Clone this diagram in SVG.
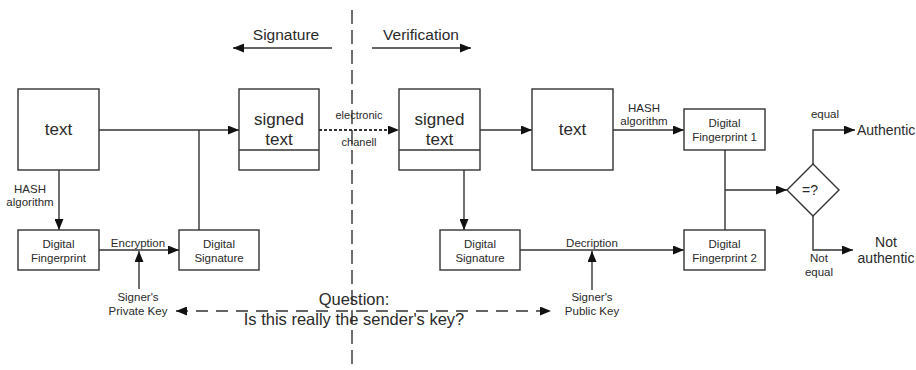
<svg xmlns="http://www.w3.org/2000/svg" width="916" height="370" viewBox="0 0 916 370">
<defs>
<style>
text{font-family:"Liberation Sans",Arial,sans-serif;fill:#2a2a2a;text-anchor:middle}
.box{fill:#fff;stroke:#333;stroke-width:1.4}
.ln{fill:none;stroke:#333;stroke-width:1.4}
.big{font-size:17px}
.sm{font-size:11.5px}
.xs{font-size:11px}
.md{font-size:14px}
.hd{font-size:15.5px}
.q{font-size:16.5px}
</style>
<marker id="ah" markerUnits="userSpaceOnUse" markerWidth="11" markerHeight="9" refX="11" refY="4.5" orient="auto-start-reverse" viewBox="0 0 11 9">
<path d="M0,0 L11,4.5 L0,9 z" fill="#111"/>
</marker>
</defs>
<rect width="916" height="370" fill="#fff"/>

<g id="divider">
<line x1="352" y1="10" x2="352" y2="370" stroke="#333" stroke-width="1.4" stroke-dasharray="14 6"/>
</g>

<g id="headers">
<text class="hd" x="286" y="40">Signature</text>
<text class="hd" x="421" y="40">Verification</text>
</g>

<g id="connectors">
<line class="ln" x1="332" y1="48" x2="233" y2="48" marker-end="url(#ah)"/>
<line class="ln" x1="372" y1="48" x2="471" y2="48" marker-end="url(#ah)"/>
<line class="ln" x1="98" y1="130" x2="239" y2="130" marker-end="url(#ah)"/>
<line class="ln" x1="199" y1="130" x2="199" y2="230"/>
<line class="ln" x1="59" y1="170" x2="59" y2="230" marker-end="url(#ah)"/>
<line class="ln" x1="99" y1="250" x2="179" y2="250" marker-end="url(#ah)"/>
<line class="ln" x1="139" y1="289" x2="139" y2="251" marker-end="url(#ah)"/>
<line x1="319" y1="130" x2="399" y2="130" stroke="#333" stroke-width="2" stroke-dasharray="3 2" marker-end="url(#ah)"/>
<line class="ln" x1="480" y1="130" x2="532" y2="130" marker-end="url(#ah)"/>
<line class="ln" x1="613" y1="130" x2="684" y2="130" marker-end="url(#ah)"/>
<line class="ln" x1="464" y1="170" x2="464" y2="230" marker-end="url(#ah)"/>
<line class="ln" x1="520" y1="250" x2="684" y2="250" marker-end="url(#ah)"/>
<line class="ln" x1="592" y1="290" x2="592" y2="251" marker-end="url(#ah)"/>
<line class="ln" x1="725" y1="150" x2="725" y2="230"/>
<line class="ln" x1="725" y1="190" x2="787" y2="190" marker-end="url(#ah)"/>
<polyline class="ln" points="813,164 813,130 855,130" marker-end="url(#ah)"/>
<polyline class="ln" points="813,216 813,250 853,250" marker-end="url(#ah)"/>
<line class="ln" x1="176" y1="311" x2="551" y2="311" stroke-dasharray="12 8" marker-start="url(#ah)" marker-end="url(#ah)"/>
</g>

<g id="labels">
<text class="sm" x="30" y="193">HASH</text>
<text class="sm" x="30" y="206">algorithm</text>
<text class="sm" x="138" y="247">Encryption</text>
<text class="sm" x="138" y="301">Signer's</text>
<text class="sm" x="138" y="315">Private Key</text>
<text class="xs" x="359" y="119">electronic</text>
<text class="xs" x="359" y="146">chanell</text>
<text class="sm" x="644" y="112">HASH</text>
<text class="sm" x="644" y="125">algorithm</text>
<text class="sm" x="592" y="247">Decription</text>
<text class="sm" x="592" y="301">Signer's</text>
<text class="sm" x="592" y="315">Public Key</text>
<text class="sm" x="825" y="118">equal</text>
<text class="sm" x="819" y="262">Not</text>
<text class="sm" x="819" y="276">equal</text>
<text class="q" x="354" y="305">Question:</text>
<text class="q" x="354" y="325">Is this really the sender's key?</text>
</g>

<g id="text1">
<rect class="box" x="18" y="89" width="81" height="81"/>
<text class="big" x="58.5" y="135">text</text>
</g>
<g id="fingerprint">
<rect class="box" x="18" y="230" width="81" height="40"/>
<text class="sm" x="58.5" y="248">Digital</text>
<text class="sm" x="58.5" y="262">Fingerprint</text>
</g>
<g id="signature1">
<rect class="box" x="179" y="230" width="80" height="40"/>
<text class="sm" x="219" y="248">Digital</text>
<text class="sm" x="219" y="262">Signature</text>
</g>
<g id="signed1">
<rect class="box" x="239" y="89" width="80" height="81"/>
<line class="ln" x1="239" y1="150" x2="319" y2="150"/>
<text class="big" x="279" y="125">signed</text>
<text class="big" x="279" y="145">text</text>
</g>
<g id="signed2">
<rect class="box" x="399" y="89" width="81" height="81"/>
<line class="ln" x1="399" y1="150" x2="480" y2="150"/>
<text class="big" x="439.5" y="125">signed</text>
<text class="big" x="439.5" y="145">text</text>
</g>
<g id="text2">
<rect class="box" x="532" y="89" width="81" height="81"/>
<text class="big" x="572.5" y="135">text</text>
</g>
<g id="signature2">
<rect class="box" x="440" y="230" width="80" height="40"/>
<text class="sm" x="480" y="248">Digital</text>
<text class="sm" x="480" y="262">Signature</text>
</g>
<g id="fingerprint1">
<rect class="box" x="684" y="109" width="81" height="41"/>
<text class="sm" x="724.5" y="127">Digital</text>
<text class="sm" x="724.5" y="141">Fingerprint 1</text>
</g>
<g id="fingerprint2">
<rect class="box" x="684" y="230" width="81" height="40"/>
<text class="sm" x="724.5" y="248">Digital</text>
<text class="sm" x="724.5" y="262">Fingerprint 2</text>
</g>
<g id="compare">
<polygon class="box" points="813,164 839,190 813,216 787,190"/>
<text class="md" x="810" y="195">=?</text>
</g>
<g id="authentic">
<text class="md" x="857" y="135" style="text-anchor:start">Authentic</text>
</g>
<g id="notauthentic">
<text class="md" x="886" y="247">Not</text>
<text class="md" x="886" y="263">authentic</text>
</g>
</svg>
